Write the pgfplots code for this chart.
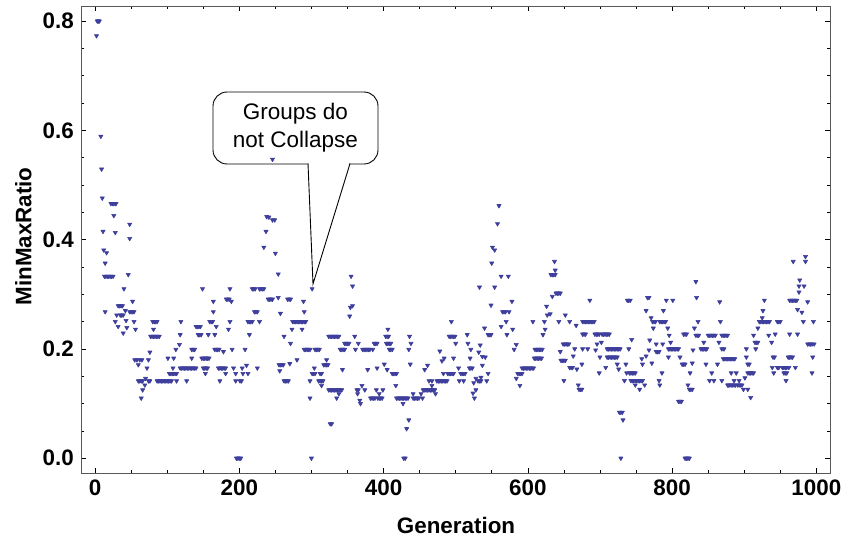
\documentclass[border=0pt]{standalone}
\usepackage{pgfplots}
\usepackage{pgfplotstable}
\pgfplotsset{compat=1.18}
\usepackage{fontspec}
\setmainfont{Liberation Sans}
\definecolor{ptc}{RGB}{62,62,156}
\pgfplotstableread[row sep=\\]{
x y\\
2 0.773\\ 3 0.800\\ 4 0.800\\ 5 0.800\\ 6 0.800\\ 8 0.589\\ 9 0.529\\ 10 0.476\\ 11 0.415\\ 12 0.381\\ 16 0.376\\ 14 0.357\\
13 0.333\\ 15 0.333\\ 17 0.333\\ 19 0.333\\ 21 0.333\\ 23 0.333\\ 25 0.333\\ 14 0.268\\
22 0.466\\ 24 0.466\\ 26 0.466\\ 28 0.466\\ 29 0.466\\ 26 0.444\\ 28 0.413\\ 28 0.25\\ 30 0.262\\ 32 0.241\\
32 0.279\\ 34 0.279\\ 36 0.279\\ 38 0.279\\ 35 0.262\\ 37 0.262\\ 39 0.262\\ 39 0.229\\ 40 0.310\\ 42 0.27\\ 43 0.252\\ 44 0.239\\
46 0.336\\ 48 0.428\\ 48 0.402\\ 48 0.268\\ 50 0.268\\ 52 0.268\\ 54 0.268\\ 52 0.287\\ 54 0.25\\ 56 0.236\\
55 0.180\\ 58 0.180\\ 62 0.180\\ 65 0.180\\ 60 0.171\\ 60 0.1415\\ 62 0.1415\\ 64 0.1415\\ 66 0.1415\\ 64 0.110\\ 66 0.125\\
69 0.134\\ 70 0.146\\ 72 0.165\\ 74 0.180\\ 74 0.1415\\ 76 0.1415\\ 76 0.194\\
77 0.223\\ 79 0.223\\ 81 0.223\\ 83 0.223\\ 85 0.223\\ 87 0.223\\ 89 0.223\\ 80 0.25\\ 82 0.25\\ 84 0.25\\ 86 0.25\\ 81 0.236\\
86 0.1415\\ 88 0.1415\\ 90 0.1415\\ 92 0.1415\\ 94 0.1415\\ 96 0.1415\\ 98 0.1415\\ 100 0.1415\\ 102 0.1415\\ 104 0.1415\\ 106 0.1415\\
101 0.183\\ 103 0.155\\ 105 0.155\\ 107 0.155\\ 109 0.155\\ 111 0.155\\ 113 0.155\\ 108 0.165\\ 109 0.183\\ 112 0.199\\ 113 0.1415\\
117 0.208\\ 118 0.226\\ 119 0.25\\
118 0.165\\ 120 0.165\\ 122 0.165\\ 124 0.165\\ 126 0.165\\ 128 0.165\\ 130 0.165\\ 132 0.165\\ 134 0.165\\ 136 0.165\\ 138 0.165\\ 140 0.165\\
127 0.1415\\ 134 0.199\\ 136 0.199\\ 138 0.199\\ 134 0.183\\ 140 0.241\\ 142 0.241\\ 144 0.241\\ 146 0.241\\ 143 0.226\\ 145 0.226\\ 147 0.226\\
149 0.310\\ 148 0.183\\ 150 0.183\\ 152 0.183\\ 154 0.183\\ 156 0.183\\ 158 0.183\\ 150 0.165\\ 152 0.165\\ 154 0.165\\ 156 0.165\\ 153 0.155\\
157 0.226\\ 159 0.25\\ 161 0.25\\ 163 0.25\\ 164 0.268\\ 164 0.287\\ 166 0.226\\ 168 0.241\\
166 0.199\\ 168 0.199\\ 170 0.199\\ 172 0.199\\ 171 0.165\\ 173 0.165\\ 175 0.165\\ 177 0.165\\ 179 0.165\\ 181 0.165\\
173 0.1415\\ 178 0.195\\ 181 0.155\\ 182 0.291\\ 184 0.291\\ 186 0.291\\ 189 0.287\\ 187 0.310\\ 185 0.236\\ 187 0.25\\
190 0.199\\ 192 0.165\\ 195 0.155\\ 195 0.1415\\ 201 0.1415\\ 203 0.1415\\ 196 0\\ 198 0\\ 200 0\\ 202 0\\
204 0.165\\ 205 0.155\\ 208 0.199\\ 210 0.17\\ 212 0.155\\ 214 0.226\\ 212 0.25\\ 214 0.25\\ 216 0.25\\ 218 0.25\\
218 0.31\\ 220 0.31\\ 222 0.31\\ 221 0.268\\ 223 0.268\\ 225 0.268\\ 225 0.165\\ 228 0.25\\ 228 0.31\\ 230 0.31\\ 232 0.31\\ 234 0.31\\
234 0.386\\ 237 0.415\\ 238 0.442\\ 241 0.441\\ 246 0.436\\ 249 0.436\\ 246 0.547\\ 240 0.291\\ 242 0.291\\ 244 0.291\\ 246 0.291\\
250 0.375\\ 254 0.337\\ 254 0.294\\ 257 0.265\\ 255 0.171\\ 257 0.171\\ 259 0.171\\ 261 0.171\\ 256 0.16\\
262 0.1415\\ 264 0.1415\\ 266 0.1415\\ 268 0.1415\\ 262 0.223\\ 267 0.291\\ 269 0.291\\ 271 0.291\\ 270 0.173\\ 271 0.21\\ 273 0.236\\
274 0.25\\ 276 0.25\\ 278 0.25\\ 280 0.25\\ 282 0.25\\ 284 0.25\\ 286 0.25\\ 288 0.25\\ 290 0.25\\ 292 0.25\\
280 0.18\\ 287 0.236\\ 289 0.287\\ 290 0.268\\ 290 0.199\\ 292 0.199\\ 294 0.199\\ 296 0.199\\ 298 0.199\\ 298 0.1415\\ 298 0.110\\ 300 0\\ 301 0.310\\
301 0.155\\ 303 0.155\\ 305 0.155\\ 304 0.165\\ 305 0.199\\ 307 0.199\\ 309 0.199\\ 311 0.199\\ 310 0.1415\\ 312 0.1415\\ 314 0.1415\\ 316 0.1415\\
312 0.155\\ 314 0.155\\ 314 0.133\\ 317 0.171\\ 319 0.171\\ 321 0.171\\ 323 0.171\\ 321 0.180\\
324 0.223\\ 326 0.223\\ 328 0.223\\ 330 0.223\\ 332 0.223\\ 334 0.223\\ 336 0.223\\ 338 0.223\\
324 0.125\\ 326 0.125\\ 328 0.125\\ 330 0.125\\ 332 0.125\\ 334 0.125\\ 336 0.125\\ 338 0.125\\ 340 0.125\\ 342 0.125\\
326 0.063\\ 328 0.063\\ 335 0.11\\ 338 0.118\\ 343 0.162\\ 340 0.199\\ 342 0.199\\ 344 0.199\\ 346 0.199\\ 346 0.21\\ 348 0.21\\ 350 0.21\\ 352 0.21\\
353 0.26\\ 354 0.276\\ 357 0.279\\ 355 0.333\\ 357 0.315\\ 360 0.223\\ 361 0.199\\ 365 0.21\\ 363 0.125\\ 365 0.125\\ 364 0.118\\ 367 0.106\\ 368 0.1\\
370 0.133\\ 374 0.125\\ 371 0.199\\ 373 0.199\\ 375 0.199\\ 377 0.199\\ 379 0.199\\ 381 0.199\\ 378 0.162\\ 382 0.11\\ 384 0.11\\ 386 0.11\\ 388 0.11\\
385 0.199\\ 387 0.21\\ 389 0.21\\ 391 0.21\\ 390 0.125\\ 391 0.165\\ 394 0.118\\ 392 0.11\\ 394 0.11\\ 396 0.11\\ 398 0.11\\ 399 0.125\\ 401 0.172\\
403 0.223\\ 405 0.223\\ 407 0.223\\ 405 0.162\\ 406 0.236\\ 404 0.21\\ 406 0.21\\ 408 0.21\\ 410 0.21\\ 408 0.199\\ 410 0.199\\ 412 0.199\\
412 0.155\\ 414 0.155\\ 416 0.155\\ 418 0.155\\ 417 0.133\\
418 0.11\\ 420 0.11\\ 422 0.11\\ 424 0.11\\ 426 0.11\\ 428 0.11\\ 430 0.11\\ 432 0.11\\ 434 0.11\\ 427 0.1\\ 428 0\\ 430 0\\ 432 0.054\\ 435 0.07\\
435 0.199\\ 436 0.223\\ 438 0.21\\ 437 0.172\\ 441 0.118\\ 441 0.11\\ 443 0.11\\ 445 0.11\\ 447 0.11\\ 449 0.11\\ 452 0.118\\ 454 0.11\\
455 0.125\\ 457 0.125\\ 459 0.125\\ 461 0.125\\ 463 0.125\\ 465 0.125\\ 467 0.125\\ 469 0.125\\ 471 0.125\\ 457 0.162\\ 461 0.17\\ 463 0.1415\\ 467 0.1415\\ 467 0.133\\ 472 0.118\\
474 0.1415\\ 476 0.1415\\ 478 0.1415\\ 480 0.1415\\ 482 0.1415\\ 484 0.1415\\ 486 0.1415\\ 488 0.1415\\ 478 0.196\\ 481 0.178\\ 484 0.183\\ 483 0.155\\
489 0.155\\ 491 0.155\\ 493 0.155\\ 495 0.155\\ 497 0.155\\ 491 0.223\\ 493 0.223\\ 495 0.223\\ 497 0.223\\ 499 0.223\\ 494 0.25\\ 500 0.21\\ 497 0.183\\
504 0.165\\ 505 0.1415\\ 507 0.155\\ 509 0.155\\ 511 0.155\\ 513 0.155\\ 511 0.1415\\ 516 0.226\\ 517 0.21\\ 520 0.183\\ 519 0.165\\ 521 0.165\\ 523 0.165\\ 521 0.199\\
524 0.119\\ 525 0.138\\ 526 0.11\\ 528 0.125\\ 528 0.146\\ 531 0.1415\\ 533 0.1415\\ 535 0.1415\\ 533 0.313\\ 534 0.207\\ 532 0.194\\ 535 0.148\\
537 0.186\\ 537 0.17\\ 540 0.238\\ 541 0.185\\ 543 0.1415\\ 545 0.155\\ 545 0.226\\ 547 0.226\\ 549 0.226\\ 549 0.28\\ 550 0.357\\ 551 0.386\\ 554 0.381\\ 554 0.313\\
558 0.429\\ 560 0.462\\ 563 0.333\\ 563 0.241\\ 565 0.268\\ 567 0.268\\ 569 0.268\\ 570 0.25\\ 571 0.226\\ 573 0.333\\ 574 0.268\\ 578 0.287\\ 579 0.236\\
581 0.199\\ 584 0.208\\ 584 0.146\\ 586 0.155\\ 588 0.155\\ 590 0.155\\ 592 0.155\\ 589 0.133\\
592 0.165\\ 594 0.165\\ 596 0.165\\ 598 0.165\\ 600 0.165\\ 602 0.165\\ 604 0.165\\ 606 0.165\\ 608 0.165\\ 607 0.25\\
609 0.183\\ 611 0.183\\ 613 0.183\\ 615 0.183\\ 617 0.183\\ 619 0.183\\ 610 0.199\\ 612 0.199\\ 614 0.199\\ 616 0.199\\ 618 0.199\\ 620 0.199\\
623 0.25\\ 624 0.236\\ 621 0.226\\ 626 0.278\\ 627 0.262\\
637 0.360\\ 638 0.344\\ 632 0.336\\ 634 0.336\\ 636 0.336\\ 638 0.336\\ 639 0.302\\ 641 0.302\\ 643 0.302\\ 645 0.302\\ 634 0.296\\ 631 0.264\\ 643 0.25\\ 645 0.195\\
646 0.179\\ 648 0.179\\ 650 0.179\\ 652 0.179\\ 650 0.142\\ 649 0.209\\ 651 0.209\\ 653 0.209\\ 655 0.209\\ 657 0.209\\ 652 0.262\\ 658 0.25\\
658 0.166\\ 660 0.166\\ 662 0.166\\ 663 0.187\\ 665 0.2\\ 667 0.243\\ 668 0.163\\ 670 0.134\\ 671 0.126\\ 673 0.126\\ 675 0.126\\ 675 0.172\\ 676 0.2\\
676 0.25\\ 678 0.25\\ 680 0.25\\ 682 0.25\\ 684 0.25\\ 686 0.25\\ 688 0.25\\ 690 0.25\\ 692 0.25\\ 683 0.2\\ 676 0.227\\ 678 0.227\\ 680 0.227\\ 686 0.289\\
694 0.198\\ 693 0.227\\ 695 0.227\\ 697 0.227\\ 699 0.227\\ 696 0.209\\ 699 0.156\\ 700 0.185\\ 702 0.212\\
703 0.227\\ 705 0.227\\ 707 0.227\\ 709 0.227\\ 711 0.227\\ 713 0.227\\ 708 0.166\\
710 0.2\\ 712 0.2\\ 714 0.2\\ 716 0.2\\ 718 0.2\\ 720 0.2\\ 722 0.2\\ 724 0.2\\ 726 0.2\\ 728 0.2\\
710 0.185\\ 712 0.185\\ 714 0.185\\ 716 0.185\\ 718 0.185\\ 720 0.185\\ 722 0.185\\ 724 0.185\\ 724 0.172\\ 726 0.163\\
727 0.084\\ 729 0.084\\ 731 0.084\\ 732 0.07\\ 729 0\\ 734 0.142\\ 736 0.172\\ 737 0.156\\ 740 0.2\\ 738 0.289\\ 740 0.289\\ 742 0.289\\ 744 0.217\\
741 0.156\\ 743 0.156\\ 745 0.156\\ 747 0.156\\ 749 0.156\\ 743 0.142\\ 745 0.142\\ 747 0.142\\ 749 0.142\\ 751 0.142\\ 753 0.142\\ 755 0.142\\ 757 0.142\\ 759 0.142\\
749 0.134\\ 755 0.126\\ 758 0.182\\ 759 0.172\\ 762 0.134\\ 764 0.27\\ 764 0.187\\ 766 0.294\\ 768 0.294\\ 768 0.198\\ 769 0.216\\ 771 0.257\\
773 0.25\\ 775 0.25\\ 777 0.25\\ 772 0.174\\ 774 0.238\\ 778 0.209\\ 778 0.195\\ 780 0.195\\ 782 0.195\\ 782 0.142\\ 783 0.134\\ 786 0.156\\ 787 0.209\\ 788 0.27\\
783 0.25\\ 785 0.25\\ 787 0.25\\ 789 0.25\\ 791 0.25\\ 792 0.289\\ 794 0.238\\ 796 0.225\\ 795 0.185\\
795 0.2\\ 797 0.2\\ 799 0.2\\ 801 0.2\\ 803 0.2\\ 805 0.2\\ 807 0.2\\ 809 0.2\\ 798 0.212\\ 801 0.289\\ 811 0.185\\ 809 0.104\\ 811 0.104\\ 813 0.104\\
814 0.172\\ 816 0.172\\ 818 0.172\\ 818 0\\ 820 0\\ 822 0\\ 824 0\\ 816 0.227\\ 818 0.227\\ 820 0.227\\ 822 0.134\\ 824 0.126\\ 826 0.126\\ 828 0.126\\
825 0.156\\ 828 0.174\\ 829 0.198\\ 831 0.238\\ 833 0.323\\ 834 0.294\\ 833 0.225\\ 835 0.225\\ 837 0.225\\ 836 0.25\\
840 0.2\\ 842 0.2\\ 844 0.2\\ 846 0.2\\ 848 0.2\\ 844 0.212\\ 847 0.172\\ 850 0.225\\ 852 0.225\\ 854 0.225\\ 856 0.225\\ 858 0.225\\ 860 0.225\\
855 0.156\\ 852 0.142\\ 858 0.142\\ 863 0.172\\ 865 0.212\\ 866 0.286\\ 867 0.25\\ 869 0.225\\ 871 0.225\\ 873 0.225\\ 875 0.225\\ 877 0.225\\
869 0.2\\ 869 0.142\\ 871 0.182\\ 873 0.182\\ 875 0.182\\ 877 0.182\\ 872 0.2\\ 877 0.134\\ 879 0.182\\ 881 0.182\\ 883 0.182\\ 885 0.182\\ 887 0.182\\ 882 0.156\\
878 0.134\\ 880 0.134\\ 882 0.134\\ 884 0.134\\ 886 0.134\\ 888 0.134\\ 886 0.142\\ 889 0.156\\ 891 0.134\\ 893 0.134\\ 895 0.134\\ 897 0.134\\ 893 0.142\\
899 0.126\\ 901 0.147\\ 903 0.2\\ 903 0.185\\ 905 0.172\\ 907 0.172\\ 905 0.126\\ 905 0.156\\ 907 0.156\\ 909 0.156\\ 911 0.156\\ 913 0.156\\ 909 0.111\\
913 0.225\\ 915 0.212\\ 917 0.212\\ 919 0.212\\ 916 0.2\\ 919 0.238\\ 921 0.25\\ 923 0.25\\ 925 0.25\\ 927 0.25\\ 929 0.25\\ 931 0.25\\ 933 0.25\\ 935 0.25\\
925 0.257\\ 926 0.27\\ 928 0.289\\ 934 0.225\\ 938 0.212\\ 940 0.185\\ 942 0.185\\ 939 0.166\\ 941 0.156\\ 946 0.25\\ 948 0.25\\ 950 0.25\\ 943 0.227\\ 946 0.166\\ 948 0.166\\
955 0.156\\ 957 0.156\\ 959 0.156\\ 953 0.166\\ 955 0.166\\ 957 0.166\\ 959 0.166\\ 958 0.142\\ 962 0.166\\ 961 0.185\\ 963 0.185\\ 965 0.185\\ 967 0.185\\ 963 0.227\\
963 0.289\\ 965 0.289\\ 967 0.289\\ 969 0.289\\ 971 0.289\\ 973 0.289\\ 968 0.360\\ 971 0.166\\ 974 0.227\\ 974 0.272\\ 976 0.304\\ 976 0.315\\ 977 0.326\\
980 0.267\\ 982 0.25\\ 983 0.315\\ 985 0.369\\ 985 0.360\\ 988 0.286\\ 988 0.209\\ 990 0.209\\ 992 0.209\\ 994 0.209\\ 994 0.156\\ 995 0.185\\ 996 0.25\\ 997 0.209\\
}\gendata
\begin{document}
\begin{tikzpicture}[x=1pt,y=1pt]
\path[use as bounding box] (0,0) rectangle (846,539);
% callout (drawn first, points lie above it)
\draw[line width=0.9pt, fill=white, rounded corners=14pt] (213,375) rectangle (378,447);
\fill[white] (308.5,377.5) -- (313,255) -- (349.5,377.5) -- cycle;
\draw[line width=0.9pt] (308,375.4) -- (313,255) -- (350,375.4);
\node[font=\fontsize{22.5}{28}\selectfont, align=center, inner sep=0pt] at (295.5,411) {Groups do\\not Collapse};
\begin{axis}[
  at={(81pt,66pt)}, anchor=south west,
  scale only axis, width=749pt, height=467pt,
  xmin=-19.5, xmax=1019, ymin=-0.027, ymax=0.8275,
  xtick={0,200,...,1000}, minor x tick num=3,
  ytick={0,0.2,0.4,0.6,0.8}, minor y tick num=3,
  tick align=inside,
  major tick length=5pt, minor tick length=3pt,
  tick style={black, line width=0.6pt},
  axis line style={draw=black!65, line width=0.9pt},
  /pgf/number format/assume math mode=true,
  xticklabel style={font=\fontsize{22.4}{24}\selectfont\bfseries, anchor=north, inner sep=0pt, yshift=-7pt},
  yticklabel style={font=\fontsize{22.4}{24}\selectfont\bfseries, anchor=east, inner sep=0pt, xshift=-7pt},
  xticklabel={\pgfmathprintnumber[fixed,precision=0,1000 sep={}]{\tick}},
  yticklabel={\pgfmathprintnumber[fixed,fixed zerofill,precision=1]{\tick}},
  clip=false,
]
\addplot[only marks, mark=triangle*, mark size=2.4pt, color=ptc, mark options={rotate=180, draw=ptc, fill=ptc, line width=0.6pt, line join=round}] table[x=x,y=y] {\gendata};
\end{axis}
\node[font=\fontsize{22.4}{24}\selectfont\bfseries, anchor=base] at (456,6) {Generation};
\node[font=\fontsize{22.4}{24}\selectfont\bfseries, anchor=base, rotate=90] at (31.5,302.5) {MinMaxRatio};
\end{tikzpicture}
\end{document}
